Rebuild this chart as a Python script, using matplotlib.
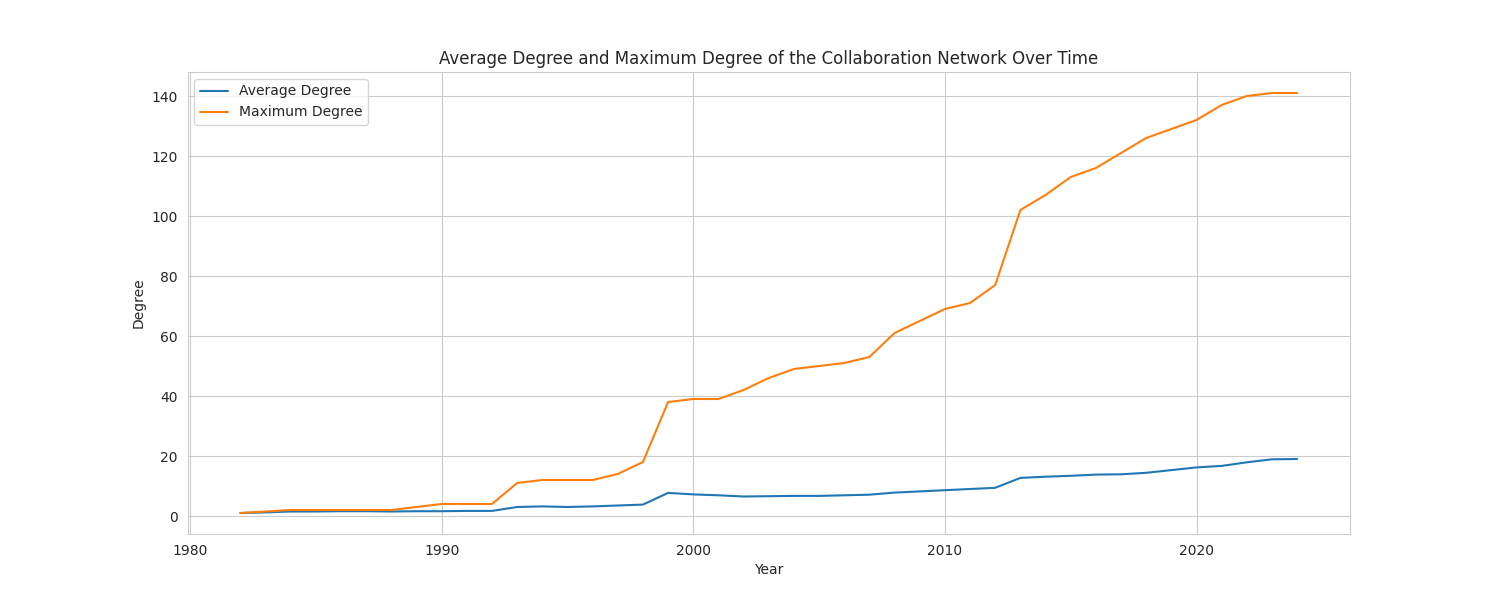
import matplotlib
matplotlib.use("Agg")
import matplotlib.pyplot as plt
import seaborn as sns

years = list(range(1982, 2025))
avg_degree = [1.0, 1.2, 1.5, 1.5, 1.6, 1.6, 1.5, 1.6, 1.6, 1.7, 1.7,
              3.0, 3.2, 3.0, 3.2, 3.5, 3.8, 7.7, 7.2, 6.9, 6.5, 6.6,
              6.7, 6.7, 6.9, 7.1, 7.8, 8.2, 8.6, 9.0, 9.4, 12.7, 13.1,
              13.4, 13.8, 13.9, 14.4, 15.3, 16.2, 16.7, 17.9, 18.9, 19.0]
max_degree = [1, 1.5, 2, 2, 2, 2, 2, 3, 4, 4, 4, 11, 12, 12, 12, 14, 18,
              38, 39, 39, 42, 46, 49, 50, 51, 53, 61, 65, 69, 71, 77, 102,
              107, 113, 116, 121, 126, 129, 132, 137, 140, 141, 141]

sns.set_style("whitegrid")
fig, ax = plt.subplots(figsize=(15, 6), dpi=100)
ax.plot(years, avg_degree, label="Average Degree")
ax.plot(years, max_degree, label="Maximum Degree")
ax.set_title("Average Degree and Maximum Degree of the Collaboration Network Over Time")
ax.set_xlabel("Year")
ax.set_ylabel("Degree")
ax.legend(loc="upper left")
plt.savefig("out.png")
